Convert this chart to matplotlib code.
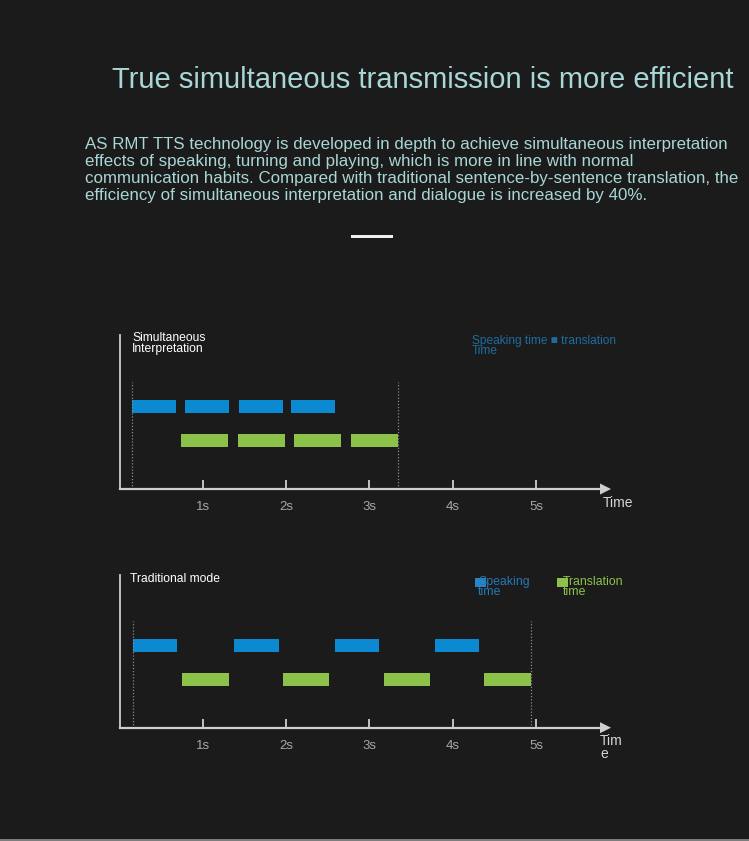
import matplotlib
matplotlib.use("Agg")
import matplotlib.pyplot as plt
from matplotlib import font_manager
from matplotlib.patches import Polygon, Rectangle

# ---------------- data ----------------
tick_values = [1, 2, 3, 4, 5]
tick_labels = ["1s", "2s", "3s", "4s", "5s"]

sim_speak_start = [0.15, 0.79, 1.43, 2.06]
sim_speak_dur = [0.53, 0.53, 0.53, 0.53]
sim_trans_start = [0.74, 1.42, 2.10, 2.78]
sim_trans_dur = [0.56, 0.57, 0.56, 0.56]

trad_speak_start = [0.16, 1.38, 2.59, 3.79]
trad_speak_dur = [0.53, 0.53, 0.53, 0.53]
trad_trans_start = [0.75, 1.96, 3.17, 4.38]
trad_trans_dur = [0.56, 0.56, 0.56, 0.56]

title = "True simultaneous transmission is more efficient"
paragraph = ("AS RMT TTS technology is developed in depth to achieve simultaneous interpretation\n"
             "effects of speaking, turning and playing, which is more in line with normal\n"
             "communication habits. Compared with traditional sentence-by-sentence translation, the\n"
             "efficiency of simultaneous interpretation and dialogue is increased by 40%.")

# ---------------- style ----------------
BG = "#1b1b1b"
BLUE = "#0b8ad2"
GREEN = "#8dc24a"
AXIS = "#cfcfcf"
TICKLBL = "#a8a8a8"

avail = {f.name for f in font_manager.fontManager.ttflist}
NARROW = "Liberation Sans Narrow" if "Liberation Sans Narrow" in avail else "Liberation Sans"
SANS = "Liberation Sans"

W, H = 749, 841
fig = plt.figure(figsize=(W / 100, H / 100), dpi=100, facecolor=BG)


def fx(x):
    return x / W


def fy(y):
    return 1 - y / H


# bottom gray strip
fig.patches.append(Rectangle((0, 0), 1, fy(838.5), transform=fig.transFigure,
                             facecolor="#7d7d7d", edgecolor="none"))

# title & paragraph
fig.text(fx(423), fy(80), title, ha="center", va="center", color="#a9d6d6",
         fontsize=21, family=NARROW)
fig.text(fx(85), fy(136.5), paragraph, ha="left", va="top", color="#a9d6d6",
         fontsize=12.2, family=NARROW, linespacing=1.17)
fig.patches.append(Rectangle((fx(351), fy(237.5)), fx(42), 2.5 / H,
                             transform=fig.transFigure, facecolor="#f0f0f0",
                             edgecolor="none"))

PX_PER_S = 83.3
ROW = 34.0  # px between rows


def make_axes(axis_y, top_y, speak_s, speak_d, trans_s, trans_d):
    left = 119.5
    right = 611
    ax = fig.add_axes([fx(left), fy(axis_y), fx(right - left), (axis_y - top_y) / H])
    ax.set_facecolor("none")
    ax.set_xlim(0, (right - left) / PX_PER_S)
    lo = 1 - 48.5 / ROW
    ax.set_ylim(lo, lo + (axis_y - top_y) / ROW)
    bh = 12.6 / ROW
    ax.barh([2] * len(speak_s), speak_d, left=speak_s, height=bh, color=BLUE)
    ax.barh([1] * len(trans_s), trans_d, left=trans_s, height=bh, color=GREEN)
    # dotted guide lines
    dot_top = lo + 107 / ROW
    for xv in (speak_s[0], trans_s[-1] + trans_d[-1]):
        ax.plot([xv, xv], [lo, dot_top], color="#8a8a8a", lw=0.9,
                ls=(0, (1, 1.5)), zorder=1)
    for s in ("top", "right"):
        ax.spines[s].set_visible(False)
    ax.spines["left"].set_color(AXIS)
    ax.spines["bottom"].set_color(AXIS)
    ax.spines["left"].set_linewidth(1.3)
    ax.spines["bottom"].set_linewidth(1.6)
    ax.spines["bottom"].set_bounds(0, (600 - left) / PX_PER_S)
    ax.set_yticks([])
    ax.set_xticks(tick_values)
    ax.set_xticklabels(tick_labels, family=SANS, fontsize=9.5, color=TICKLBL)
    ax.tick_params(axis="x", direction="in", length=6.5, width=1.3, color=AXIS,
                   pad=9)
    # arrow head
    xa = (600 - left) / PX_PER_S
    xb = (611 - left) / PX_PER_S
    dy = 5.5 / ROW
    ax.add_patch(Polygon([[xa, lo - dy], [xa, lo + dy], [xb, lo]], closed=True,
                         facecolor=AXIS, edgecolor="none", clip_on=False))
    return ax


ax1 = make_axes(489, 335, sim_speak_start, sim_speak_dur, sim_trans_start, sim_trans_dur)
ax2 = make_axes(727.7, 575, trad_speak_start, trad_speak_dur, trad_trans_start, trad_trans_dur)

# top chart labels
fig.text(fx(132), fy(332), "Simultaneous\nInterpretation", ha="left", va="top",
         color="white", fontsize=8.7, family=NARROW, linespacing=0.85)
fig.text(fx(472), fy(335), "Speaking time \u25a0 translation\nTime", ha="left", va="top",
         color="#1d6d9f", fontsize=8.6, family=SANS, linespacing=0.82)
fig.text(fx(603), fy(503), "Time", ha="left", va="center", color="#d5d5d5",
         fontsize=10, family=SANS)

# bottom chart labels
fig.text(fx(130), fy(579), "Traditional mode", ha="left", va="center",
         color="white", fontsize=8.7, family=NARROW)
fig.patches.append(Rectangle((fx(475), fy(587)), fx(11), 9 / H,
                             transform=fig.transFigure, facecolor="#2a85c8",
                             edgecolor="none"))
fig.text(fx(478), fy(576), "Speaking\ntime", ha="left", va="top",
         color="#2479b5", fontsize=8.8, family=SANS, linespacing=0.82)
fig.patches.append(Rectangle((fx(557), fy(587)), fx(11), 9 / H,
                             transform=fig.transFigure, facecolor=GREEN,
                             edgecolor="none"))
fig.text(fx(563), fy(576), "Translation\ntime", ha="left", va="top",
         color=GREEN, fontsize=8.8, family=SANS, linespacing=0.82)
fig.text(fx(600), fy(734), "Tim\ne", ha="left", va="top", color="#d5d5d5",
         fontsize=10, family=SANS, linespacing=0.9)

fig.savefig("out.png", dpi=100, facecolor=BG)
